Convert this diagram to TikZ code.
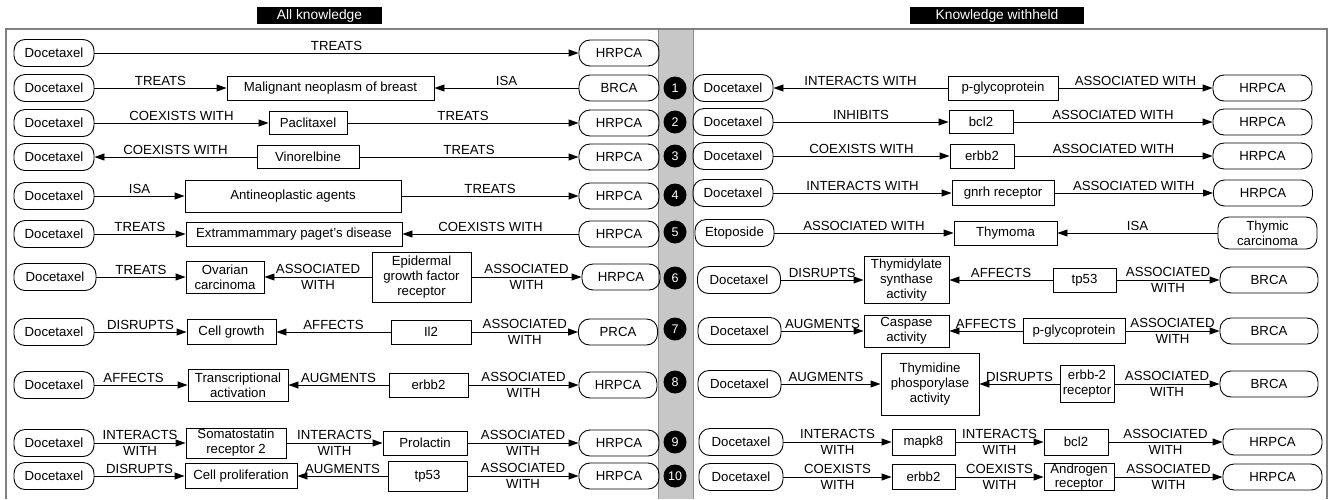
\documentclass[tikz,border=0pt]{standalone}
\usepackage{fontspec}
\setmainfont{Liberation Sans}
\usetikzlibrary{arrows.meta}
\newcommand\myfs{\fontsize{13.2}{15.5}\selectfont}
\newcommand\myfsb{\fontsize{13.2}{15}\selectfont}
\begin{document}
\begin{tikzpicture}[x=1pt,y=-1pt,
  term/.style={draw, rounded corners=11pt, line width=0.9pt, minimum width=80pt, minimum height=27pt, inner sep=1pt, align=center, font=\myfsb},
  box/.style={draw, line width=0.9pt, inner sep=1pt, align=center, font=\myfsb},
  lbl/.style={above, inner sep=1.5pt, font=\myfs},
  lbltwo/.style={inner sep=0pt, align=center, font=\myfs},
  fwd/.style={line width=0.9pt, -{Triangle[length=10pt,width=7pt]}},
  bwd/.style={line width=0.9pt, {Triangle[length=10pt,width=7pt]}-},
  num/.style={circle, fill=black, text=white, minimum size=23pt, inner sep=0pt, font=\fontsize{12.5}{14}\selectfont},
  hdr/.style={fill=black, text=white, minimum height=17pt, inner sep=0pt, font=\fontsize{13.8}{15}\selectfont},
]
\useasboundingbox (0,0) rectangle (1329,499);
\fill[white] (0,0) rectangle (1329,499);
% grey column and frame
\fill[black!22] (658,29) rectangle (693,499);
\draw[black!45, line width=1pt] (658,29) -- (658,499) (693,29) -- (693,499);
\draw[black!50, line width=1.2pt] (6,499) -- (6,29) -- (1327,29) -- (1327,499);
% headers
\node[hdr, minimum width=125pt] (h1) at (319.5,15.5) {All knowledge};
\node[hdr, minimum width=174pt] (h2) at (997,15.5) {Knowledge withheld};

% ---------------- LEFT ----------------
% row 0
\node[term] (l0a) at (54,53) {Docetaxel};
\node[term, minimum height=26pt] (l0b) at (619,53) {HRPCA};
\draw[fwd] (l0a) -- node[lbl]{TREATS} (l0b);
% row 1
\node[term] (l1a) at (54,88) {Docetaxel};
\node[box, minimum width=207pt, minimum height=24pt] (l1b) at (330.5,88) {Malignant neoplasm of breast};
\node[term, minimum height=26pt] (l1c) at (619,88) {BRCA};
\draw[fwd] (l1a) -- node[lbl]{TREATS} (l1b);
\draw[bwd] (l1b) -- node[lbl]{ISA} (l1c);
% row 2
\node[term] (l2a) at (54,123) {Docetaxel};
\node[box, minimum width=78pt, minimum height=23pt] (l2b) at (308,123) {Paclitaxel};
\node[term, minimum height=26pt] (l2c) at (619,123) {HRPCA};
\draw[fwd] (l2a) -- node[lbl]{COEXISTS WITH} (l2b);
\draw[fwd] (l2b) -- node[lbl]{TREATS} (l2c);
% row 3
\node[term] (l3a) at (54,157) {Docetaxel};
\node[box, minimum width=102pt, minimum height=23pt] (l3b) at (308,157) {Vinorelbine};
\node[term, minimum height=26pt] (l3c) at (619,157) {HRPCA};
\draw[bwd] (l3a) -- node[lbl]{COEXISTS WITH} (l3b);
\draw[fwd] (l3b) -- node[lbl]{TREATS} (l3c);
% row 4
\node[term] (l4a) at (54,196) {Docetaxel};
\node[box, minimum width=216pt, minimum height=32pt] (l4b) at (293,196) {Antineoplastic agents};
\node[term, minimum height=26pt] (l4c) at (619,196) {HRPCA};
\draw[fwd] (l4a) -- node[lbl]{ISA} (l4b);
\draw[fwd] (l4b) -- node[lbl]{TREATS} (l4c);
% row 5
\node[term] (l5a) at (54,234) {Docetaxel};
\node[box, minimum width=216pt, minimum height=24pt] (l5b) at (294,234) {Extrammammary paget's disease};
\node[term, minimum height=26pt] (l5c) at (619,234) {HRPCA};
\draw[fwd] (l5a) -- node[lbl]{TREATS} (l5b);
\draw[bwd] (l5b) -- node[lbl]{COEXISTS WITH} (l5c);
% row 6
\node[term, minimum width=82pt] (l6a) at (55,277) {Docetaxel};
\node[box, minimum width=78pt, minimum height=32pt] (l6b) at (225,277) {Ovarian\\carcinoma};
\node[box, minimum width=99pt, minimum height=50pt] (l6c) at (421.5,277) {Epidermal\\growth factor\\receptor};
\node[term, minimum width=78pt, minimum height=26pt] (l6d) at (621,277) {HRPCA};
\draw[fwd] (l6a) -- node[lbl]{TREATS} (l6b);
\draw[bwd] (l6b) -- node[lbltwo]{ASSOCIATED\\WITH} (l6c);
\draw[fwd] (l6c) -- node[lbltwo]{ASSOCIATED\\WITH} (l6d);
% row 7
\node[term] (l7a) at (54,332) {Docetaxel};
\node[box, minimum width=89pt, minimum height=25pt] (l7b) at (231.5,332) {Cell growth};
\node[box, minimum width=80pt, minimum height=24pt] (l7c) at (431,332) {Il2};
\node[term, minimum width=79pt, minimum height=26pt] (l7d) at (618,332) {PRCA};
\draw[fwd] (l7a) -- node[lbl]{DISRUPTS} (l7b);
\draw[bwd] (l7b) -- node[lbl]{AFFECTS} (l7c);
\draw[fwd] (l7c) -- node[lbltwo]{ASSOCIATED\\WITH} (l7d);
% row 8
\node[term] (l8a) at (54,385) {Docetaxel};
\node[box, minimum width=100pt, minimum height=32pt] (l8b) at (238,385) {Transcriptional\\activation};
\node[box, minimum width=79pt, minimum height=24pt] (l8c) at (428.5,385) {erbb2};
\node[term, minimum width=78pt, minimum height=26pt] (l8d) at (618,385) {HRPCA};
\draw[fwd] (l8a) -- node[lbl, pos=0.42]{AFFECTS} (l8b);
\draw[bwd] (l8b) -- node[lbl]{AUGMENTS} (l8c);
\draw[fwd] (l8c) -- node[lbltwo]{ASSOCIATED\\WITH} (l8d);
% row 9
\node[term] (l9a) at (54,443) {Docetaxel};
\node[box, minimum width=100pt, minimum height=30pt] (l9b) at (236,443) {Somatostatin\\receptor 2};
\node[box, minimum width=84pt, minimum height=24pt] (l9c) at (425,443) {Prolactin};
\node[term, minimum height=26pt] (l9d) at (619,443) {HRPCA};
\draw[fwd] (l9a) -- node[lbltwo]{INTERACTS\\WITH} (l9b);
\draw[fwd] (l9b) -- node[lbltwo]{INTERACTS\\WITH} (l9c);
\draw[fwd] (l9c) -- node[lbltwo]{ASSOCIATED\\WITH} (l9d);
% row 10
\node[term] (l10a) at (54,476) {Docetaxel};
\node[box, minimum width=112pt, minimum height=25pt] (l10b) at (241,476) {Cell proliferation};
\node[box, minimum width=79pt, minimum height=30pt] (l10c) at (427.5,476) {tp53};
\node[term, minimum height=26pt] (l10d) at (619,476) {HRPCA};
\draw[fwd] (l10a) -- node[lbl]{DISRUPTS} (l10b);
\draw[bwd] (l10b) -- node[lbl]{AUGMENTS} (l10c);
\draw[fwd] (l10c) -- node[lbltwo]{ASSOCIATED\\WITH} (l10d);

% ---------------- NUMBERS ----------------
\node[num] (n1) at (675,88) {1};
\node[num] (n2) at (675,122) {2};
\node[num] (n3) at (675,156) {3};
\node[num] (n4) at (675,195) {4};
\node[num] (n5) at (675,232) {5};
\node[num] (n6) at (675,278) {6};
\node[num] (n7) at (675,329) {7};
\node[num] (n8) at (675,382) {8};
\node[num] (n9) at (675,442) {9};
\node[num] (n10) at (675,476) {10};

% ---------------- RIGHT ----------------
% row 1
\node[term] (r1a) at (733,88) {Docetaxel};
\node[box, minimum width=110pt, minimum height=24pt] (r1b) at (1003,88) {p-glycoprotein};
\node[term, minimum width=99pt, minimum height=26pt] (r1c) at (1262.5,88) {HRPCA};
\draw[bwd] (r1a) -- node[lbl]{INTERACTS WITH} (r1b);
\draw[fwd] (r1b) -- node[lbl]{ASSOCIATED WITH} (r1c);
% row 2
\node[term] (r2a) at (733,122) {Docetaxel};
\node[box, minimum width=64pt, minimum height=23pt] (r2b) at (981,122) {bcl2};
\node[term, minimum width=99pt, minimum height=26pt] (r2c) at (1262.5,122) {HRPCA};
\draw[fwd] (r2a) -- node[lbl]{INHIBITS} (r2b);
\draw[fwd] (r2b) -- node[lbl]{ASSOCIATED WITH} (r2c);
% row 3
\node[term] (r3a) at (733,156) {Docetaxel};
\node[box, minimum width=64pt, minimum height=24pt] (r3b) at (982,156) {erbb2};
\node[term, minimum width=99pt, minimum height=26pt] (r3c) at (1262.5,156) {HRPCA};
\draw[fwd] (r3a) -- node[lbl]{COEXISTS WITH} (r3b);
\draw[fwd] (r3b) -- node[lbl]{ASSOCIATED WITH} (r3c);
% row 4
\node[term] (r4a) at (733,193) {Docetaxel};
\node[box, minimum width=102pt, minimum height=25pt] (r4b) at (1003,193) {gnrh receptor};
\node[term, minimum width=99pt, minimum height=26pt] (r4c) at (1263,193) {HRPCA};
\draw[fwd] (r4a) -- node[lbl]{INTERACTS WITH} (r4b);
\draw[fwd] (r4b) -- node[lbl]{ASSOCIATED WITH} (r4c);
% row 5
\node[term, minimum width=79pt] (r5a) at (734.5,233) {Etoposide};
\node[box, minimum width=103pt, minimum height=24pt] (r5b) at (1005.5,233) {Thymoma};
\node[term, minimum width=99pt, minimum height=32pt] (r5c) at (1267.5,233) {Thymic\\carcinoma};
\draw[fwd] (r5a) -- node[lbl]{ASSOCIATED WITH} (r5b);
\draw[bwd] (r5b) -- node[lbl]{ISA} (r5c);
% row 6
\node[term, minimum width=83pt] (r6a) at (739,280) {Docetaxel};
\node[box, minimum width=85pt, minimum height=47pt] (r6b) at (906.5,280) {Thymidylate\\synthase\\activity};
\node[box, minimum width=63pt, minimum height=24pt] (r6c) at (1084.5,280) {tp53};
\node[term, minimum width=98pt, minimum height=26pt] (r6d) at (1269,280) {BRCA};
\draw[fwd] (r6a) -- node[lbl]{DISRUPTS} (r6b);
\draw[bwd] (r6b) -- node[lbl]{AFFECTS} (r6c);
\draw[fwd] (r6c) -- node[lbltwo]{ASSOCIATED\\WITH} (r6d);
% row 7
\node[term, minimum width=83pt] (r7a) at (739.5,331) {Docetaxel};
\node[box, minimum width=85pt, minimum height=32pt] (r7b) at (906.5,331) {Caspase\\activity};
\node[box, minimum width=102pt, minimum height=25pt] (r7c) at (1074,331) {p-glycoprotein};
\node[term, minimum width=98pt, minimum height=26pt] (r7d) at (1269,331) {BRCA};
\draw[fwd] (r7a) -- node[lbl]{AUGMENTS} (r7b);
\draw[bwd] (r7b) -- node[lbl]{AFFECTS} (r7c);
\draw[fwd] (r7c) -- node[lbltwo]{ASSOCIATED\\WITH} (r7d);
% row 8
\node[term, minimum width=83pt] (r8a) at (739.5,384) {Docetaxel};
\node[box, minimum width=98pt, minimum height=62pt] (r8b) at (930,384) {Thymidine\\phosporylase\\activity};
\node[box, minimum width=54pt, minimum height=37pt] (r8c) at (1087,384) {erbb-2\\receptor};
\node[term, minimum width=98pt, minimum height=26pt] (r8d) at (1269,384) {BRCA};
\draw[fwd] (r8a) -- node[lbl, pos=0.45]{AUGMENTS} (r8b);
\draw[bwd] (r8b) -- node[lbl]{DISRUPTS} (r8c);
\draw[fwd] (r8c) -- node[lbltwo]{ASSOCIATED\\WITH} (r8d);
% row 9
\node[term, minimum width=84pt] (r9a) at (741,442) {Docetaxel};
\node[box, minimum width=63pt, minimum height=26pt] (r9b) at (923.5,442) {mapk8};
\node[box, minimum width=64pt, minimum height=26pt] (r9c) at (1076,442) {bcl2};
\node[term, minimum width=99pt, minimum height=26pt] (r9d) at (1272.5,442) {HRPCA};
\draw[fwd] (r9a) -- node[lbltwo]{INTERACTS\\WITH} (r9b);
\draw[fwd] (r9b) -- node[lbltwo]{INTERACTS\\WITH} (r9c);
\draw[fwd] (r9c) -- node[lbltwo]{ASSOCIATED\\WITH} (r9d);
% row 10
\node[term, minimum width=84pt] (r10a) at (741,477) {Docetaxel};
\node[box, minimum width=63pt, minimum height=25pt] (r10b) at (923.5,477) {erbb2};
\node[box, minimum width=70pt, minimum height=27pt, font=\fontsize{13.2}{14}\selectfont, inner sep=0pt] (r10c) at (1079,477) {Androgen\\receptor};
\node[term, minimum width=99pt, minimum height=26pt] (r10d) at (1272.5,477) {HRPCA};
\draw[fwd] (r10a) -- node[lbltwo]{COEXISTS\\WITH} (r10b);
\draw[fwd] (r10b) -- node[lbltwo]{COEXISTS\\WITH} (r10c);
\draw[fwd] (r10c) -- node[lbltwo]{ASSOCIATED\\WITH} (r10d);
\end{tikzpicture}
\end{document}
